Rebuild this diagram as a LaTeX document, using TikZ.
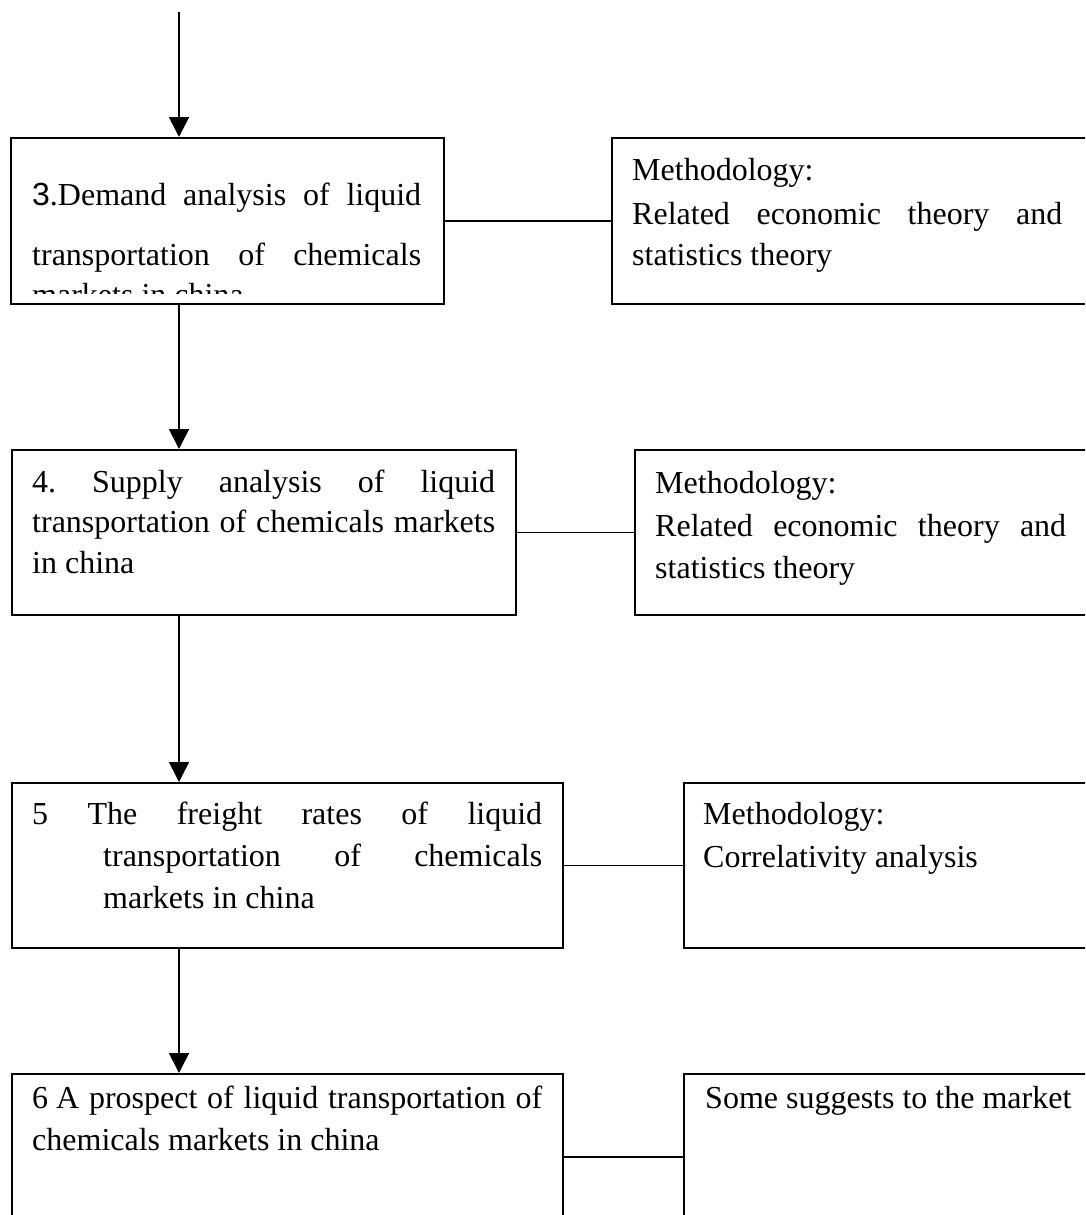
\documentclass[tikz,border=0pt]{standalone}
\usepackage{fontspec}
\setmainfont{Liberation Serif}
\newfontfamily\sansf{Liberation Sans}
\usetikzlibrary{arrows.meta}
\newcommand\fsz{\fontsize{32}{40}\selectfont}
\begin{document}
\begin{tikzpicture}[x=1pt,y=-1pt,
  box/.style={draw, line width=1.6pt, rectangle, inner sep=0pt, anchor=north west},
  txt/.style={anchor=base west, inner sep=0pt, font=\fsz},
  link/.style={line width=1.6pt},
  arr/.style={line width=1.6pt, -{Triangle[length=20pt,width=20pt]}}]
\useasboundingbox (0,0) rectangle (1085,1215);
\clip (0,0) rectangle (1085,1215);
% boxes
\node[box, minimum width=433pt, minimum height=166pt] (b3) at (10,137) {};
\node[box, minimum width=490pt, minimum height=166pt] (m3) at (611,137) {};
\node[box, minimum width=504pt, minimum height=165pt] (b4) at (11,449) {};
\node[box, minimum width=470pt, minimum height=165pt] (m4) at (634,449) {};
\node[box, minimum width=551pt, minimum height=165pt] (b5) at (11,782) {};
\node[box, minimum width=420pt, minimum height=165pt] (m5) at (683,782) {};
\node[box, minimum width=551pt, minimum height=166pt] (b6) at (11,1073) {};
\node[box, minimum width=420pt, minimum height=166pt] (m6) at (683,1073) {};
% connectors
\draw[link] (b3.east) -- (m3.west);
\draw[link] (b4.east) -- (m4.west);
\draw[link] (b5.east) -- (m5.west);
\draw[link] (b6.east) -- (m6.west);
% arrows
\coordinate (top) at (179,12);
\draw[arr] (top) -- (top |- b3.north);
\draw[arr] (top |- b3.south) -- (top |- b4.north);
\draw[arr] (top |- b4.south) -- (top |- b5.north);
\draw[arr] (top |- b5.south) -- (top |- b6.north);
% box 3 text
\node[txt] (t3a) at (32,205) {\hbox to 389pt{{\sansf 3}.Demand\hfill analysis\hfill of\hfill liquid}};
\node[txt] (t3b) at (32,265) {\hbox to 389pt{transportation\hfill of\hfill chemicals}};
\begin{scope}
  \clip (11,138) rectangle (442,293);
  \node[txt] (t3c) at (32,305) {markets in china};
\end{scope}
\node[txt] (m3a) at (632,180) {Methodology:};
\node[txt] (m3b) at (632,224) {\hbox to 430pt{Related\hfill economic\hfill theory\hfill and}};
\node[txt] (m3c) at (632,265) {statistics theory};
% box 4 text
\node[txt] (t4a) at (32,492) {\hbox to 463pt{4.\hfill Supply\hfill analysis\hfill of\hfill liquid}};
\node[txt] (t4b) at (32,532) {\hbox to 463pt{transportation\hfill of\hfill chemicals\hfill markets}};
\node[txt] (t4c) at (32,573) {in china};
\node[txt] (m4a) at (655,493) {Methodology:};
\node[txt] (m4b) at (655,536) {\hbox to 411pt{Related\hfill economic\hfill theory\hfill and}};
\node[txt] (m4c) at (655,578) {statistics theory};
% box 5 text
\node[txt] (t5a) at (32,824) {\hbox to 510pt{5\hfill The\hfill freight\hfill rates\hfill of\hfill liquid}};
\node[txt] (t5b) at (103,866) {\hbox to 439pt{transportation\hfill of\hfill chemicals}};
\node[txt] (t5c) at (103,908) {markets in china};
\node[txt] (m5a) at (703,824) {Methodology:};
\node[txt] (m5b) at (703,867) {Correlativity analysis};
% box 6 text
\node[txt] (t6a) at (32,1108) {\hbox to 510pt{6 A\hfill prospect\hfill of\hfill liquid\hfill transportation\hfill of}};
\node[txt] (t6b) at (32,1150) {chemicals markets in china};
\node[txt] (m6a) at (705,1108) {Some suggests to the market};
\end{tikzpicture}
\end{document}
